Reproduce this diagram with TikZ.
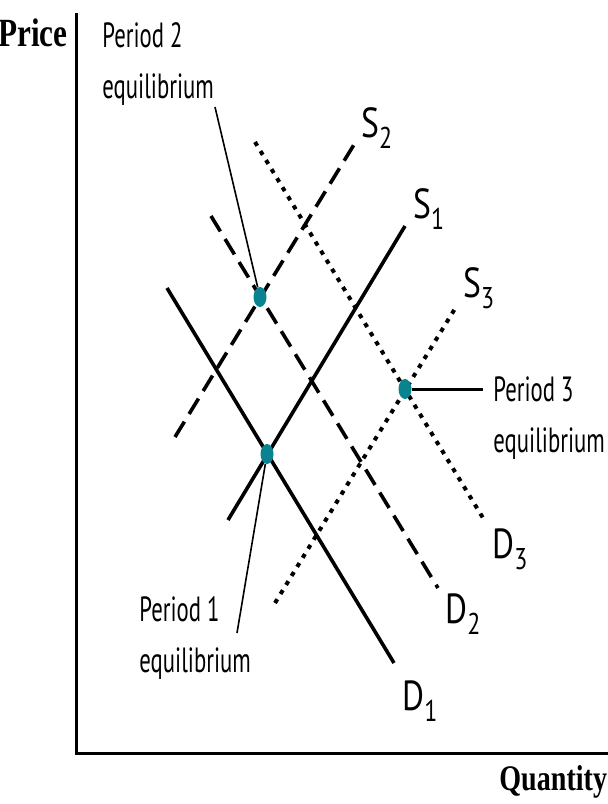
\documentclass[tikz,border=0pt]{standalone}
\usepackage{fontspec}
\usetikzlibrary{shapes.geometric}
\newfontfamily\graphfont[FakeStretch=0.65]{PT Sans}
\newfontfamily\curvefont[FakeStretch=0.8]{PT Sans}
\newfontfamily\axisfont[FakeStretch=0.78]{Liberation Serif}
\definecolor{EquilTeal}{HTML}{0A8390}
\newcommand{\curvename}[2]{#1\raisebox{-5.5pt}{\fontsize{15}{15}\selectfont #2}}

\begin{document}
\begin{tikzpicture}[x=0.5pt,y=-0.5pt,
    axisline/.style={line width=1.5pt},
    axisname/.style={inner sep=0pt,font=\axisfont\bfseries\fontsize{#1}{#1}\selectfont},
    solidcurve/.style={line width=1.8pt},
    dashcurve/.style={line width=1.8pt,dash pattern=on 9pt off 4.5pt},
    dotcurve/.style={line width=2pt,dash pattern=on 2.2pt off 3.1pt},
    curvelabel/.style={inner sep=0pt,anchor=base west,font=\curvefont\fontsize{21}{21}\selectfont},
    eqlabel/.style={inner sep=0pt,anchor=base west,align=left,font=\graphfont\fontsize{17.5}{25.5}\selectfont},
    eqdot/.style={ellipse,fill=EquilTeal,inner sep=0pt,minimum width=6.5pt,minimum height=10pt},
    leader/.style={line width=0.8pt}]
  \useasboundingbox (0,0) rectangle (608,804);

  % axes
  \coordinate (origin) at (76,753);
  \coordinate (ytop) at (76,13);
  \coordinate (xend) at (608,753);
  \draw[axisline] (ytop) -- (origin) -- (xend);
  \node[axisname=20,anchor=base east] (price) at (68,46) {Price};
  \node[axisname=18,anchor=base west] (quantity) at (499,790) {Quantity};

  % supply and demand curves
  \coordinate (s1a) at (228,520); \coordinate (s1b) at (405,226);
  \coordinate (d1a) at (167,288); \coordinate (d1b) at (394,663);
  \coordinate (s2a) at (175,437); \coordinate (s2b) at (355,143);
  \coordinate (d2a) at (211,216); \coordinate (d2b) at (438,588);
  \coordinate (s3a) at (275,603); \coordinate (s3b) at (456,307);
  \coordinate (d3a) at (255,142); \coordinate (d3b) at (483,518);

  \draw[solidcurve] (s1a) -- (s1b);
  \draw[solidcurve] (d1a) -- (d1b);
  \draw[dashcurve] (s2a) -- (s2b);
  \draw[dashcurve] (d2a) -- (d2b);
  \draw[dotcurve] (s3a) -- (s3b);
  \draw[dotcurve] (d3a) -- (d3b);

  \node[curvelabel] (s2name) at (361,137) {\curvename{S}{2}};
  \node[curvelabel] (s1name) at (413,218) {\curvename{S}{1}};
  \node[curvelabel] (s3name) at (463,297) {\curvename{S}{3}};
  \node[curvelabel] (d3name) at (492,558) {\curvename{D}{3}};
  \node[curvelabel] (d2name) at (445,623) {\curvename{D}{2}};
  \node[curvelabel] (d1name) at (402,710) {\curvename{D}{1}};

  % equilibria
  \node[eqdot] (eq1) at (267,454) {};
  \node[eqdot] (eq2) at (260,297) {};
  \node[eqdot] (eq3) at (405,389) {};

  % base of a two-line node is its last line
  \node[eqlabel] (p2label) at (102,98) {Period 2\\equilibrium};
  \node[eqlabel] (p1label) at (139,672) {Period 1\\equilibrium};
  \node[eqlabel] (p3label) at (493,452) {Period 3\\equilibrium};

  \coordinate (p2end) at (215,107);
  \coordinate (p1end) at (237,633);
  \coordinate (p3end) at (483,389);
  \draw[leader] (p2end) -- (eq2);
  \draw[leader] (eq1) -- (p1end);
  \draw[line width=1.5pt] (eq3) -- (p3end);
\end{tikzpicture}
\end{document}
